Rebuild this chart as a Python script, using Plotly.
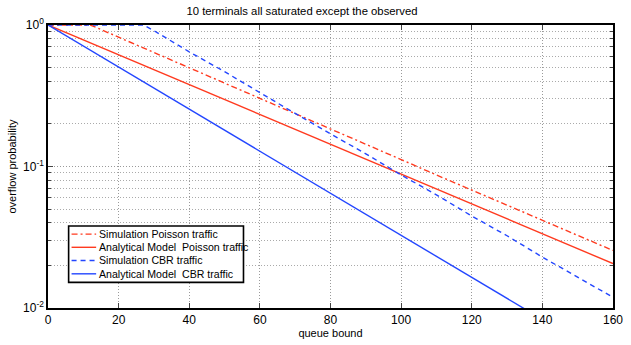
import plotly.graph_objects as go

# Data (queue bound vs overflow probability)
sim_poisson_x = [0, 12, 20, 30, 40, 50, 60, 70, 80, 90, 100, 110, 120, 130, 140, 150, 160]
sim_poisson_y = [1.0, 1.0, 0.820, 0.640, 0.501, 0.389, 0.302, 0.237, 0.185, 0.145, 0.112,
                 0.0871, 0.0682, 0.0532, 0.0417, 0.0324, 0.0255]

ana_poisson_x = [0, 20, 40, 60, 80, 100, 120, 140, 160]
ana_poisson_y = [1.0, 0.615, 0.379, 0.233, 0.1435, 0.0883, 0.0543, 0.0334, 0.0206]

sim_cbr_x = [0, 10, 20, 27, 30, 40, 50, 60, 70, 80, 90, 100, 110, 120, 130, 140, 150, 160]
sim_cbr_y = [1.0, 1.0, 1.0, 1.0, 0.912, 0.646, 0.468, 0.331, 0.237, 0.170, 0.123, 0.0871,
             0.0631, 0.0447, 0.0324, 0.0229, 0.0166, 0.0119]

ana_cbr_x = [0, 20, 40, 60, 80, 100, 120, 140]
ana_cbr_y = [1.0, 0.504, 0.254, 0.128, 0.0646, 0.0326, 0.0164, 0.0083]

series_names = ["Simulation Poisson traffic", "Analytical Model  Poisson traffic",
                "Simulation CBR traffic", "Analytical Model  CBR traffic"]

x_ticks = [0, 20, 40, 60, 80, 100, 120, 140, 160]
y_ticks = [0.01, 0.1, 1]
y_ticktext = ["10<sup>-2</sup>", "10<sup>-1</sup>", "10<sup>0</sup>"]
y_minor = [m * d for d in (0.01, 0.1) for m in range(2, 10)]

RED = "#ff3a1f"
BLUE = "#2346ff"
styles = [dict(color=RED, width=1.4, dash="6px,3px,2px,3px"),
          dict(color=RED, width=1.4),
          dict(color=BLUE, width=1.4, dash="5px,4px"),
          dict(color=BLUE, width=1.4)]
series = [(sim_poisson_x, sim_poisson_y), (ana_poisson_x, ana_poisson_y),
          (sim_cbr_x, sim_cbr_y), (ana_cbr_x, ana_cbr_y)]

fig = go.Figure()
for (xs, ys), name, st in zip(series, series_names, styles):
    fig.add_trace(go.Scatter(x=xs, y=ys, mode="lines", name=name, line=st,
                             showlegend=False))

# Compact MATLAB-style legend box (paper coordinates)
lg_x0, lg_x1, lg_y0, lg_y1 = 0.0365, 0.346, 0.0905, 0.290
row_y = [0.261, 0.2145, 0.168, 0.1208]
fig.add_shape(type="rect", xref="paper", yref="paper", x0=lg_x0, x1=lg_x1, y0=lg_y0, y1=lg_y1,
              line=dict(width=0), fillcolor="white", layer="above")
fig.add_shape(type="rect", xref="paper", yref="paper", x0=lg_x0, x1=lg_x1, y0=lg_y0, y1=lg_y1,
              line=dict(color="#000000", width=1.6), fillcolor="rgba(0,0,0,0)", layer="above")
for yy, name, st in zip(row_y, series_names, styles):
    fig.add_shape(type="line", xref="paper", yref="paper", x0=0.0417, x1=0.0852, y0=yy, y1=yy,
                  line=st, layer="above")
    fig.add_annotation(xref="paper", yref="paper", x=0.0875, y=yy, text=name,
                       showarrow=False, xanchor="left", yanchor="middle",
                       font=dict(size=10.6, color="black"))

FONT = "Liberation Sans, Arial, sans-serif"
GRID = "#9a9a9a"

fig.update_layout(
    width=631, height=345,
    margin=dict(l=48, r=8, t=25, b=33),
    paper_bgcolor="white", plot_bgcolor="white",
    font=dict(family=FONT, size=11, color="black"),
    title=dict(text="10 terminals all saturated except the observed",
               x=302 / 631, xref="container", xanchor="center", y=0.968, yanchor="middle",
               font=dict(size=11.3)),
    showlegend=False,
    xaxis=dict(range=[0, 160], tickvals=x_ticks, ticks="inside", ticklen=5,
               showline=True, mirror="allticks", linecolor="black", linewidth=1.5,
               showgrid=True, gridcolor=GRID, griddash="1px,2px", gridwidth=1,
               zeroline=False, tickfont=dict(size=12), ticklabeloverflow="allow",
               title=dict(text="queue bound", standoff=2, font=dict(size=11))),
    yaxis=dict(type="log", range=[-2, 0], tickvals=y_ticks, ticktext=y_ticktext,
               ticks="inside", ticklen=5,
               showline=True, mirror="allticks", linecolor="black", linewidth=1.5,
               showgrid=True, gridcolor=GRID, griddash="1px,2px", gridwidth=1,
               zeroline=False, tickfont=dict(size=12),
               minor=dict(tickvals=y_minor, ticks="inside", ticklen=3,
                          showgrid=True, gridcolor="#aaaaaa", griddash="1px,2px", gridwidth=1),
               title=dict(text="overflow probability", standoff=4, font=dict(size=11))),
)

fig.write_html("out.html")
